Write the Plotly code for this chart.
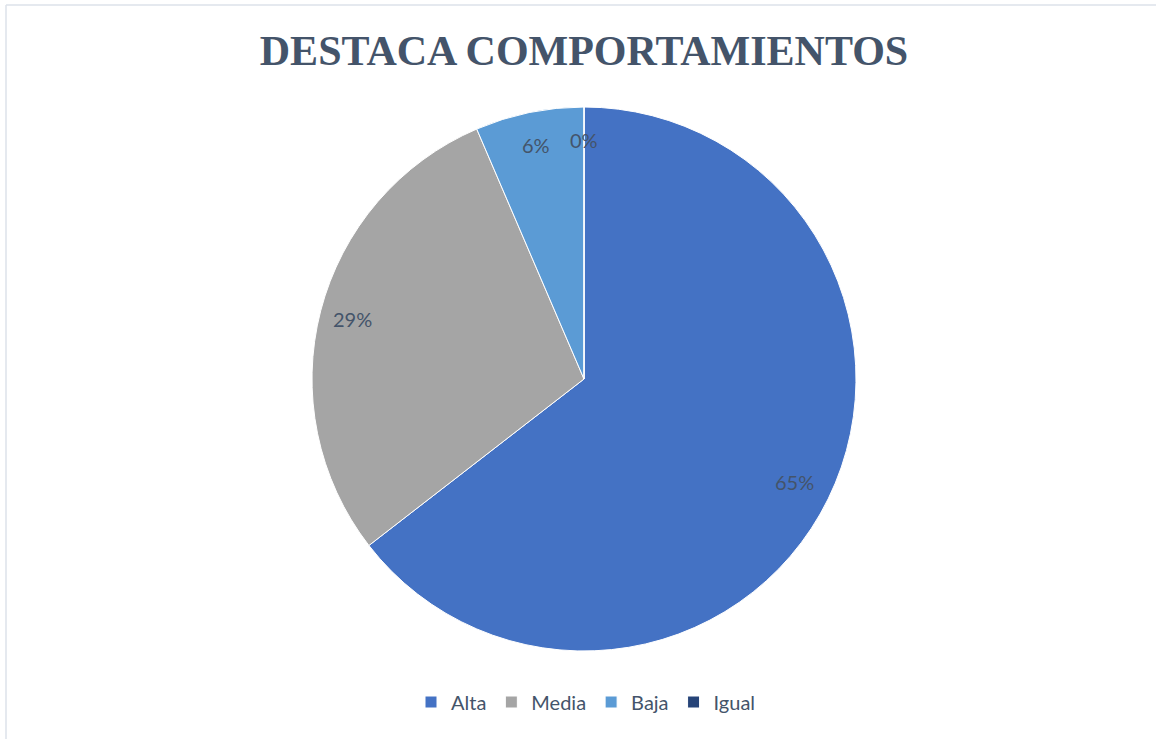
import math
import plotly.graph_objects as go

categories = ["Alta", "Media", "Baja", "Igual"]
counts = [20, 9, 2, 0]
colors = ["#4472C4", "#A5A5A5", "#5B9BD5", "#264478"]

W, H = 1156, 739
ML, MR, MT, MB = 40, 28, 107, 88
pw, ph = W - ML - MR, H - MT - MB

fig = go.Figure(go.Pie(
    labels=categories,
    values=counts,
    sort=False,
    direction="clockwise",
    rotation=0,
    textinfo="none",
    hoverinfo="label+percent",
    marker=dict(colors=colors, line=dict(color="white", width=1)),
    showlegend=True,
))

# data labels positioned along each slice's mid-angle
total = sum(counts)
r_px = min(pw, ph) / 2
cx_px = ML + pw / 2
cy_px = MT + ph / 2
cum = 0
annotations = []
for cat, v in zip(categories, counts):
    frac = v / total
    mid = cum + frac / 2
    cum += frac
    ang = mid * 2 * math.pi
    rr = 0.86 * r_px if frac > 0.5 else 0.88 * r_px
    px = cx_px + rr * math.sin(ang)
    py = cy_px - rr * math.cos(ang)
    annotations.append(dict(
        x=(px - ML) / pw, y=(H - MB - py) / ph, xref="paper", yref="paper",
        text=f"{round(frac * 100)}%", showarrow=False,
        font=dict(family="Lato, Open Sans, sans-serif", size=20, color="#44546A"),
        xanchor="center", yanchor="middle",
    ))

fig.update_layout(
    width=W, height=H,
    margin=dict(l=ML, r=MR, t=MT, b=MB),
    paper_bgcolor="white",
    plot_bgcolor="white",
    title=dict(
        text="<b>DESTACA COMPORTAMIENTOS</b>",
        x=(584) / W, xanchor="center", y=1 - 50 / H, yanchor="middle",
        font=dict(family="Liberation Serif, Times New Roman, serif", size=42, color="#44546A"),
    ),
    legend=dict(
        orientation="h", x=(586 - ML) / pw, xanchor="center",
        y=(H - MB - 702) / ph, yanchor="middle",
        font=dict(family="Lato, Open Sans, sans-serif", size=20, color="#44546A"),
        itemclick=False,
    ),
    annotations=annotations,
    shapes=[
        dict(type="line", xref="paper", yref="paper",
             x0=(6 - ML) / pw, x1=(6 - ML) / pw, y0=(H - MB - 5) / ph, y1=(H - MB - 745) / ph,
             line=dict(color="#DDE2EA", width=1.5)),
        dict(type="line", xref="paper", yref="paper",
             x0=(6 - ML) / pw, x1=(1160 - ML) / pw, y0=(H - MB - 5) / ph, y1=(H - MB - 5) / ph,
             line=dict(color="#DDE2EA", width=1.5)),
    ],
)

fig.write_html("out.html", config={"displayModeBar": False},
               post_script="document.body.style.margin='0';")
